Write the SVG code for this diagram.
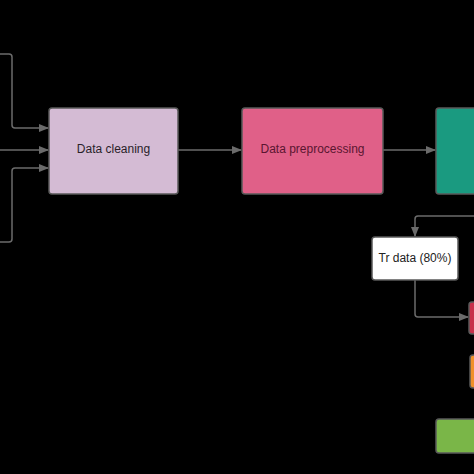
<svg xmlns="http://www.w3.org/2000/svg" width="474" height="474" viewBox="0 0 474 474">
<defs>
<marker id="ah" markerWidth="10" markerHeight="8" refX="9" refY="4" orient="auto" markerUnits="userSpaceOnUse">
<path d="M0,0 L10,4 L0,8 Z" fill="#6b6b6b"/>
</marker>
<style>
.c{fill:none;stroke:#6b6b6b;stroke-width:1.5}
.n{stroke:#5a5a5a;stroke-width:1.5}
.t{font-family:"Liberation Sans",Arial,sans-serif;font-size:12px;text-anchor:middle;dominant-baseline:central}
</style>
</defs>
<rect width="474" height="474" fill="#000"/>
<g id="connectors">
<path class="c" d="M0,54 H9 Q12,54 12,57 V125 Q12,128 15,128 H48" marker-end="url(#ah)"/>
<path class="c" d="M0,150 H48" marker-end="url(#ah)"/>
<path class="c" d="M0,242 H9 Q12,242 12,239 V171 Q12,168 15,168 H48" marker-end="url(#ah)"/>
<path class="c" d="M178,150 H241" marker-end="url(#ah)"/>
<path class="c" d="M383,150 H435" marker-end="url(#ah)"/>
<path class="c" d="M474,216 H418 Q415,216 415,219 V236" marker-end="url(#ah)"/>
<path class="c" d="M415,280 V314 Q415,317 418,317 H468" marker-end="url(#ah)"/>
</g>
<g id="data-cleaning">
<rect class="n" x="49" y="108" width="129" height="86" rx="3" fill="#d4bbd4"/>
<text class="t" x="113.5" y="149" fill="#2a1f2a">Data cleaning</text>
</g>
<g id="data-preprocessing">
<rect class="n" x="242" y="108" width="141" height="86" rx="3" fill="#e06088"/>
<text class="t" x="312.5" y="149" fill="#5a1630">Data preprocessing</text>
</g>
<g id="green-box">
<rect class="n" x="436" y="108" width="50" height="86" rx="3" fill="#1a9a80"/>
</g>
<g id="tr-data">
<rect class="n" x="372" y="237" width="86" height="43" rx="3" fill="#ffffff"/>
<text class="t" x="415" y="257.5" fill="#222">Tr data (80%)</text>
</g>
<g id="red-box">
<rect class="n" x="469" y="302" width="20" height="32" rx="3" fill="#c8304a"/>
</g>
<g id="orange-box">
<rect class="n" x="470" y="355" width="20" height="33" rx="3" fill="#f0902a"/>
</g>
<g id="lime-box">
<rect class="n" x="436" y="419" width="50" height="34" rx="3" fill="#7ab648"/>
</g>
</svg>
